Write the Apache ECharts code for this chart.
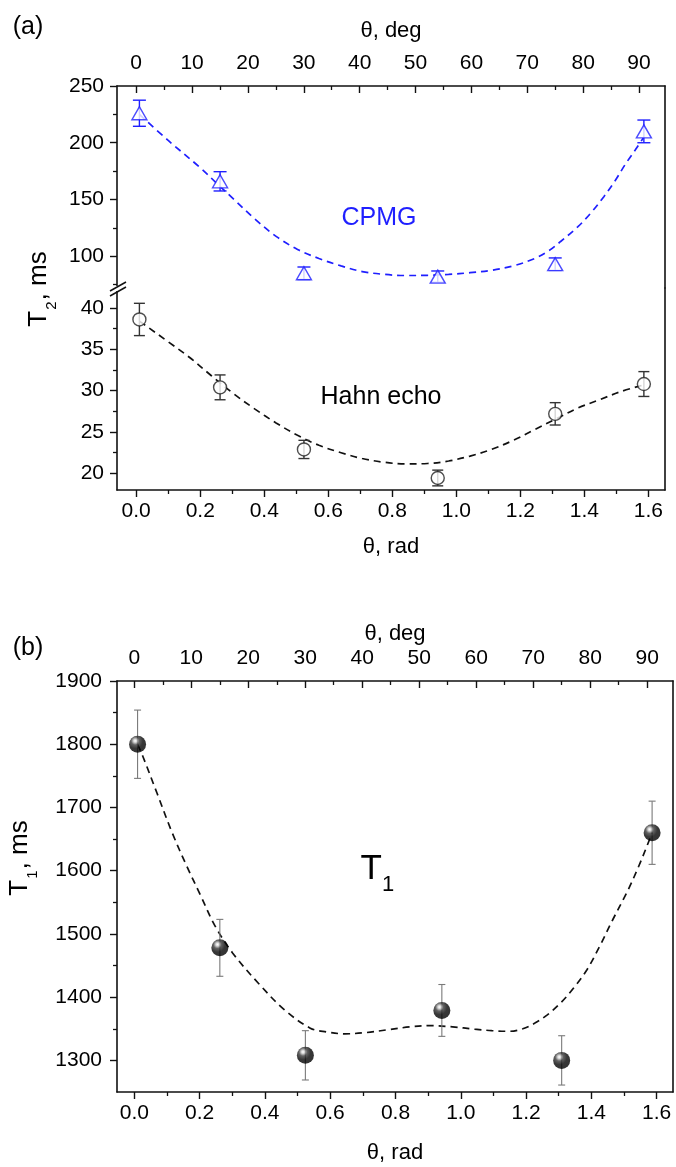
<!DOCTYPE html>
<html>
<head>
<meta charset="utf-8">
<script src="https://cdn.jsdelivr.net/npm/echarts@6/dist/echarts.min.js"></script>
<style>
  html, body { margin: 0; padding: 0; background: #fff; }
  #chart { width: 676px; height: 1167px; }
</style>
</head>
<body>
<div id="chart"></div>
<script>
// Orientation of the sample, radians
const thetaRad = [0.01, 0.262, 0.524, 0.942, 1.309, 1.586];

// T2 from CPMG and Hahn echo, with errors (ms)
const cpmgT2  = [226, 166, 85, 82, 93, 210];
const cpmgErr = [11.5, 8.5, 5.5, 5, 5.5, 10];
const hahnT2  = [38.6, 30.4, 22.9, 19.45, 27.2, 30.8];
const hahnErr = [1.95, 1.5, 1.1, 0.95, 1.35, 1.5];

// T1 with errors (ms)
const t1T1  = [1800, 1478, 1308, 1379, 1300, 1660];
const t1Err = [54, 45, 39, 41, 39, 50];

// Fitted angular dependences
const cpmgFitX = [0.010, 0.100, 0.200, 0.260, 0.302, 0.370, 0.437, 0.504, 0.571, 0.640, 0.706, 0.775, 0.841, 0.910, 0.976, 1.043, 1.110, 1.178, 1.245, 1.290, 1.326, 1.380, 1.420, 1.461, 1.495, 1.528, 1.560, 1.586];
const cpmgFitY = [225, 202, 178, 162, 151, 133, 117.5, 106, 98, 91.5, 86.5, 84, 83, 83.2, 84, 85.5, 87.6, 91.5, 98, 105, 113, 126, 138, 152.5, 166, 181, 194, 205];
const hahnFitX = [0.010, 0.032, 0.100, 0.167, 0.235, 0.302, 0.370, 0.437, 0.504, 0.571, 0.640, 0.706, 0.775, 0.841, 0.910, 0.976, 1.043, 1.110, 1.178, 1.245, 1.312, 1.380, 1.447, 1.515, 1.586];
const hahnFitY = [38.4, 37.8, 35.9, 34.0, 31.8, 29.7, 27.8, 26.1, 24.6, 23.4, 22.5, 21.8, 21.35, 21.15, 21.2, 21.5, 22.1, 22.9, 24.0, 25.3, 26.6, 27.9, 28.9, 29.9, 30.7];
const t1FitX = [0.010, 0.026, 0.070, 0.116, 0.160, 0.202, 0.248, 0.301, 0.380, 0.460, 0.539, 0.590, 0.645, 0.710, 0.777, 0.845, 0.910, 0.975, 1.042, 1.095, 1.148, 1.190, 1.227, 1.265, 1.306, 1.345, 1.386, 1.425, 1.465, 1.511, 1.545, 1.571, 1.586];
const t1FitY = [1800, 1781, 1722, 1660, 1608, 1562, 1512, 1470, 1422, 1380, 1351, 1345, 1342, 1344, 1348.5, 1353, 1355, 1353, 1349.5, 1347, 1346, 1350, 1359, 1372, 1391, 1414, 1443, 1480, 1522, 1568, 1607, 1640, 1660];

// Tick values
const radTicks  = [0, 0.2, 0.4, 0.6, 0.8, 1.0, 1.2, 1.4, 1.6];
const radMinor  = [0.1, 0.3, 0.5, 0.7, 0.9, 1.1, 1.3, 1.5];
const degTicks  = [0, 10, 20, 30, 40, 50, 60, 70, 80, 90];
const degMinor  = [5, 15, 25, 35, 45, 55, 65, 75, 85];
const cpmgTicks = [100, 150, 200, 250];
const cpmgMinor = [75, 125, 175, 225];
const hahnTicks = [20, 25, 30, 35, 40];
const hahnMinor = [22.5, 27.5, 32.5, 37.5];
const t1Ticks   = [1300, 1400, 1500, 1600, 1700, 1800, 1900];
const t1Minor   = [1350, 1450, 1550, 1650, 1750, 1850];

// Layout
const FONT = 'Arial, "Liberation Sans", Helvetica, sans-serif';
const A = { left: 117, right: 665, top: 86, mid: 288, bottom: 490, xr: [-0.06, 1.652] };
const B = { left: 117, right: 673, top: 681, bottom: 1092, xr: [-0.053, 1.65] };
const AXC = '#111';
const AXW = 1.6;
const toDeg = r => r * 180 / Math.PI;
const plain = v => String(Math.round(v * 1000) / 1000);

const zip = (xs, ys) => xs.map((x, i) => [x, ys[i]]);
const zip3 = (xs, ys, es) => xs.map((x, i) => [x, ys[i], es[i]]);

function labelStyle(extra) {
  return Object.assign({ fontSize: 21, color: '#000', fontFamily: FONT, formatter: plain }, extra || {});
}

function majorX(grid, pos, range, ticks, opts) {
  return Object.assign({
    type: 'value', gridIndex: grid, position: pos, min: range[0], max: range[1],
    axisLine: { show: true, onZero: false, lineStyle: { color: AXC, width: AXW } },
    axisTick: { show: true, inside: pos === 'top', length: 7, customValues: ticks, lineStyle: { color: AXC, width: 1.4 } },
    axisLabel: labelStyle({ show: true, customValues: ticks, margin: pos === 'top' ? 12 : 11 }),
    splitLine: { show: false }
  }, opts || {});
}
function minorX(grid, pos, range, ticks) {
  return {
    type: 'value', gridIndex: grid, position: pos, min: range[0], max: range[1],
    axisLine: { show: false, onZero: false },
    axisTick: { show: true, inside: pos === 'top', length: 4, customValues: ticks, lineStyle: { color: AXC, width: 1.3 } },
    axisLabel: { show: false }, splitLine: { show: false }
  };
}
function majorY(grid, min, max, ticks, margin) {
  return {
    type: 'value', gridIndex: grid, position: 'left', min: min, max: max,
    axisLine: { show: true, onZero: false, lineStyle: { color: AXC, width: AXW } },
    axisTick: { show: true, inside: false, length: 7, customValues: ticks, lineStyle: { color: AXC, width: 1.4 } },
    axisLabel: labelStyle({ show: true, customValues: ticks, margin: margin }),
    splitLine: { show: false }
  };
}
function minorY(grid, min, max, ticks) {
  return {
    type: 'value', gridIndex: grid, position: 'left', min: min, max: max,
    axisLine: { show: false, onZero: false },
    axisTick: { show: true, inside: false, length: 4, customValues: ticks, lineStyle: { color: AXC, width: 1.3 } },
    axisLabel: { show: false }, splitLine: { show: false }
  };
}
function frameY(grid, min, max) {
  return {
    type: 'value', gridIndex: grid, position: 'right', min: min, max: max,
    axisLine: { show: true, onZero: false, lineStyle: { color: AXC, width: AXW } },
    axisTick: { show: false }, axisLabel: { show: false }, splitLine: { show: false }
  };
}

const nameStyle = { fontSize: 22, color: '#000', fontFamily: FONT };

// Error bars drawn through the axes' own scales
function errorBars(capHalf, color, width) {
  return function (params, api) {
    const x = api.value(0), y = api.value(1), e = api.value(2);
    const hi = api.coord([x, y + e]);
    const lo = api.coord([x, y - e]);
    const style = { stroke: color, lineWidth: width, fill: null };
    return {
      type: 'group',
      children: [
        { type: 'line', shape: { x1: hi[0], y1: hi[1], x2: lo[0], y2: lo[1] }, style: style },
        { type: 'line', shape: { x1: hi[0] - capHalf, y1: hi[1], x2: hi[0] + capHalf, y2: hi[1] }, style: style },
        { type: 'line', shape: { x1: lo[0] - capHalf, y1: lo[1], x2: lo[0] + capHalf, y2: lo[1] }, style: style }
      ]
    };
  };
}

const BLUE = '#1f1fff';
// glossy black ball with a highlight to the upper left
const sphere = {
  type: 'radial', x: 0.36, y: 0.3, r: 0.75,
  colorStops: [
    { offset: 0, color: '#ffffff' },
    { offset: 0.12, color: '#d0d0d0' },
    { offset: 0.32, color: '#3a3a3a' },
    { offset: 0.6, color: '#050505' },
    { offset: 1, color: '#000000' }
  ]
};

// rotated axis title with a subscript
function yTitle(x, y, sub) {
  return {
    type: 'text', x: x, y: y, rotation: Math.PI / 2,
    style: {
      text: '{n|T}{s|' + sub + '}{n|, ms}', align: 'center', verticalAlign: 'middle', fill: '#000',
      rich: {
        n: { fontSize: 26, fontFamily: FONT, lineHeight: 26, verticalAlign: 'top' },
        s: { fontSize: 15, fontFamily: FONT, lineHeight: 15, verticalAlign: 'top', padding: [18, 1, 0, 1] }
      }
    }
  };
}

const chart = echarts.init(document.getElementById('chart'), null, { renderer: 'canvas' });

const option = {
  animation: false,
  backgroundColor: '#fff',
  grid: [
    { left: A.left, top: A.top, width: A.right - A.left, height: A.mid - A.top, containLabel: false },
    { left: A.left, top: A.mid, width: A.right - A.left, height: A.bottom - A.mid, containLabel: false },
    { left: B.left, top: B.top, width: B.right - B.left, height: B.bottom - B.top, containLabel: false }
  ],
  xAxis: [
    majorX(0, 'top', A.xr.map(toDeg), degTicks, { name: 'θ, deg', nameLocation: 'middle', nameGap: 44, nameTextStyle: nameStyle }),
    minorX(0, 'top', A.xr.map(toDeg), degMinor),
    { type: 'value', gridIndex: 0, position: 'bottom', min: A.xr[0], max: A.xr[1], show: false },
    majorX(1, 'bottom', A.xr, radTicks, {
      name: 'θ, rad', nameLocation: 'middle', nameGap: 46, nameTextStyle: nameStyle,
      axisLabel: labelStyle({ show: true, customValues: radTicks, margin: 11, formatter: v => v.toFixed(1) })
    }),
    minorX(1, 'bottom', A.xr, radMinor),
    majorX(2, 'top', B.xr.map(toDeg), degTicks, { name: 'θ, deg', nameLocation: 'middle', nameGap: 36, nameTextStyle: nameStyle }),
    minorX(2, 'top', B.xr.map(toDeg), degMinor),
    majorX(2, 'bottom', B.xr, radTicks, {
      name: 'θ, rad', nameLocation: 'middle', nameGap: 50, nameTextStyle: nameStyle,
      axisLabel: labelStyle({ show: true, customValues: radTicks, margin: 11, formatter: v => v.toFixed(1) })
    }),
    minorX(2, 'bottom', B.xr, radMinor)
  ],
  yAxis: [
    majorY(0, 72, 250, cpmgTicks, 13),
    minorY(0, 72, 250, cpmgMinor),
    frameY(0, 72, 250),
    majorY(1, 18, 42.4, hahnTicks, 13),
    minorY(1, 18, 42.4, hahnMinor),
    frameY(1, 18, 42.4),
    majorY(2, 1250, 1900, t1Ticks, 15),
    minorY(2, 1250, 1900, t1Minor),
    frameY(2, 1250, 1900)
  ],
  series: [
    // CPMG
    {
      type: 'line', xAxisIndex: 2, yAxisIndex: 0, data: zip(cpmgFitX, cpmgFitY),
      showSymbol: false, smooth: 0.35, z: 2, silent: true,
      lineStyle: { color: BLUE, width: 1.7, type: [7, 5] }
    },
    {
      type: 'custom', xAxisIndex: 2, yAxisIndex: 0, data: zip3(thetaRad, cpmgT2, cpmgErr),
      encode: { x: 0, y: 1 }, renderItem: errorBars(6.5, BLUE, 1.4), z: 3, silent: true
    },
    {
      type: 'scatter', xAxisIndex: 2, yAxisIndex: 0, data: zip(thetaRad, cpmgT2),
      symbol: 'triangle', symbolSize: [15, 13], z: 4, silent: true,
      itemStyle: { color: '#fff', borderColor: BLUE, borderWidth: 1.4 }
    },
    // Hahn echo
    {
      type: 'line', xAxisIndex: 3, yAxisIndex: 3, data: zip(hahnFitX, hahnFitY),
      showSymbol: false, smooth: 0.35, z: 2, silent: true,
      lineStyle: { color: '#111', width: 1.7, type: [7, 5] }
    },
    {
      type: 'custom', xAxisIndex: 3, yAxisIndex: 3, data: zip3(thetaRad, hahnT2, hahnErr),
      encode: { x: 0, y: 1 }, renderItem: errorBars(5.5, '#333', 1.4), z: 3, silent: true
    },
    {
      type: 'scatter', xAxisIndex: 3, yAxisIndex: 3, data: zip(thetaRad, hahnT2),
      symbol: 'circle', symbolSize: 13, z: 4, silent: true,
      itemStyle: { color: '#fff', borderColor: '#222', borderWidth: 1.4 }
    },
    // T1
    {
      type: 'line', xAxisIndex: 7, yAxisIndex: 6, data: zip(t1FitX, t1FitY),
      showSymbol: false, smooth: 0.35, z: 2, silent: true,
      lineStyle: { color: '#111', width: 1.7, type: [7, 5] }
    },
    {
      type: 'custom', xAxisIndex: 7, yAxisIndex: 6, data: zip3(thetaRad, t1T1, t1Err),
      encode: { x: 0, y: 1 }, renderItem: errorBars(3.5, '#7a7a7a', 1.1), z: 3, silent: true
    },
    {
      type: 'scatter', xAxisIndex: 7, yAxisIndex: 6, data: zip(thetaRad, t1T1),
      symbol: 'circle', symbolSize: 17, z: 4, silent: true,
      itemStyle: { color: sphere, borderWidth: 0 }
    }
  ],
  graphic: [
    // axis break on the left edge of panel (a)
    { type: 'rect', shape: { x: A.left - 4, y: A.mid - 2, width: 8, height: 5 }, style: { fill: '#fff' }, z: 100 },
    { type: 'line', shape: { x1: A.left - 7, y1: A.mid + 3, x2: A.left + 9, y2: A.mid - 6 }, style: { stroke: AXC, lineWidth: 1.5 }, z: 101 },
    { type: 'line', shape: { x1: A.left - 7, y1: A.mid + 8, x2: A.left + 9, y2: A.mid - 1 }, style: { stroke: AXC, lineWidth: 1.5 }, z: 101 },
    // panel letters
    { type: 'text', x: 28, y: 27, style: { text: '(a)', fontSize: 25, fontFamily: FONT, fill: '#000', align: 'center', verticalAlign: 'middle' } },
    { type: 'text', x: 28, y: 648, style: { text: '(b)', fontSize: 25, fontFamily: FONT, fill: '#000', align: 'center', verticalAlign: 'middle' } },
    // curve labels
    { type: 'text', x: 379, y: 218, style: { text: 'CPMG', fontSize: 25, fontFamily: FONT, fill: BLUE, align: 'center', verticalAlign: 'middle' } },
    { type: 'text', x: 381, y: 397, style: { text: 'Hahn echo', fontSize: 25, fontFamily: FONT, fill: '#000', align: 'center', verticalAlign: 'middle' } },
    { type: 'text', x: 382, y: 869, style: { text: 'T', fontSize: 35, fontFamily: FONT, fill: '#000', align: 'right', verticalAlign: 'middle' } },
    { type: 'text', x: 382, y: 885, style: { text: '1', fontSize: 22, fontFamily: FONT, fill: '#000', align: 'left', verticalAlign: 'middle' } },
    // vertical axis titles
    yTitle(39, 289, '2'),
    yTitle(20, 858, '1')
  ]
};

chart.setOption(option);
</script>
</body>
</html>
